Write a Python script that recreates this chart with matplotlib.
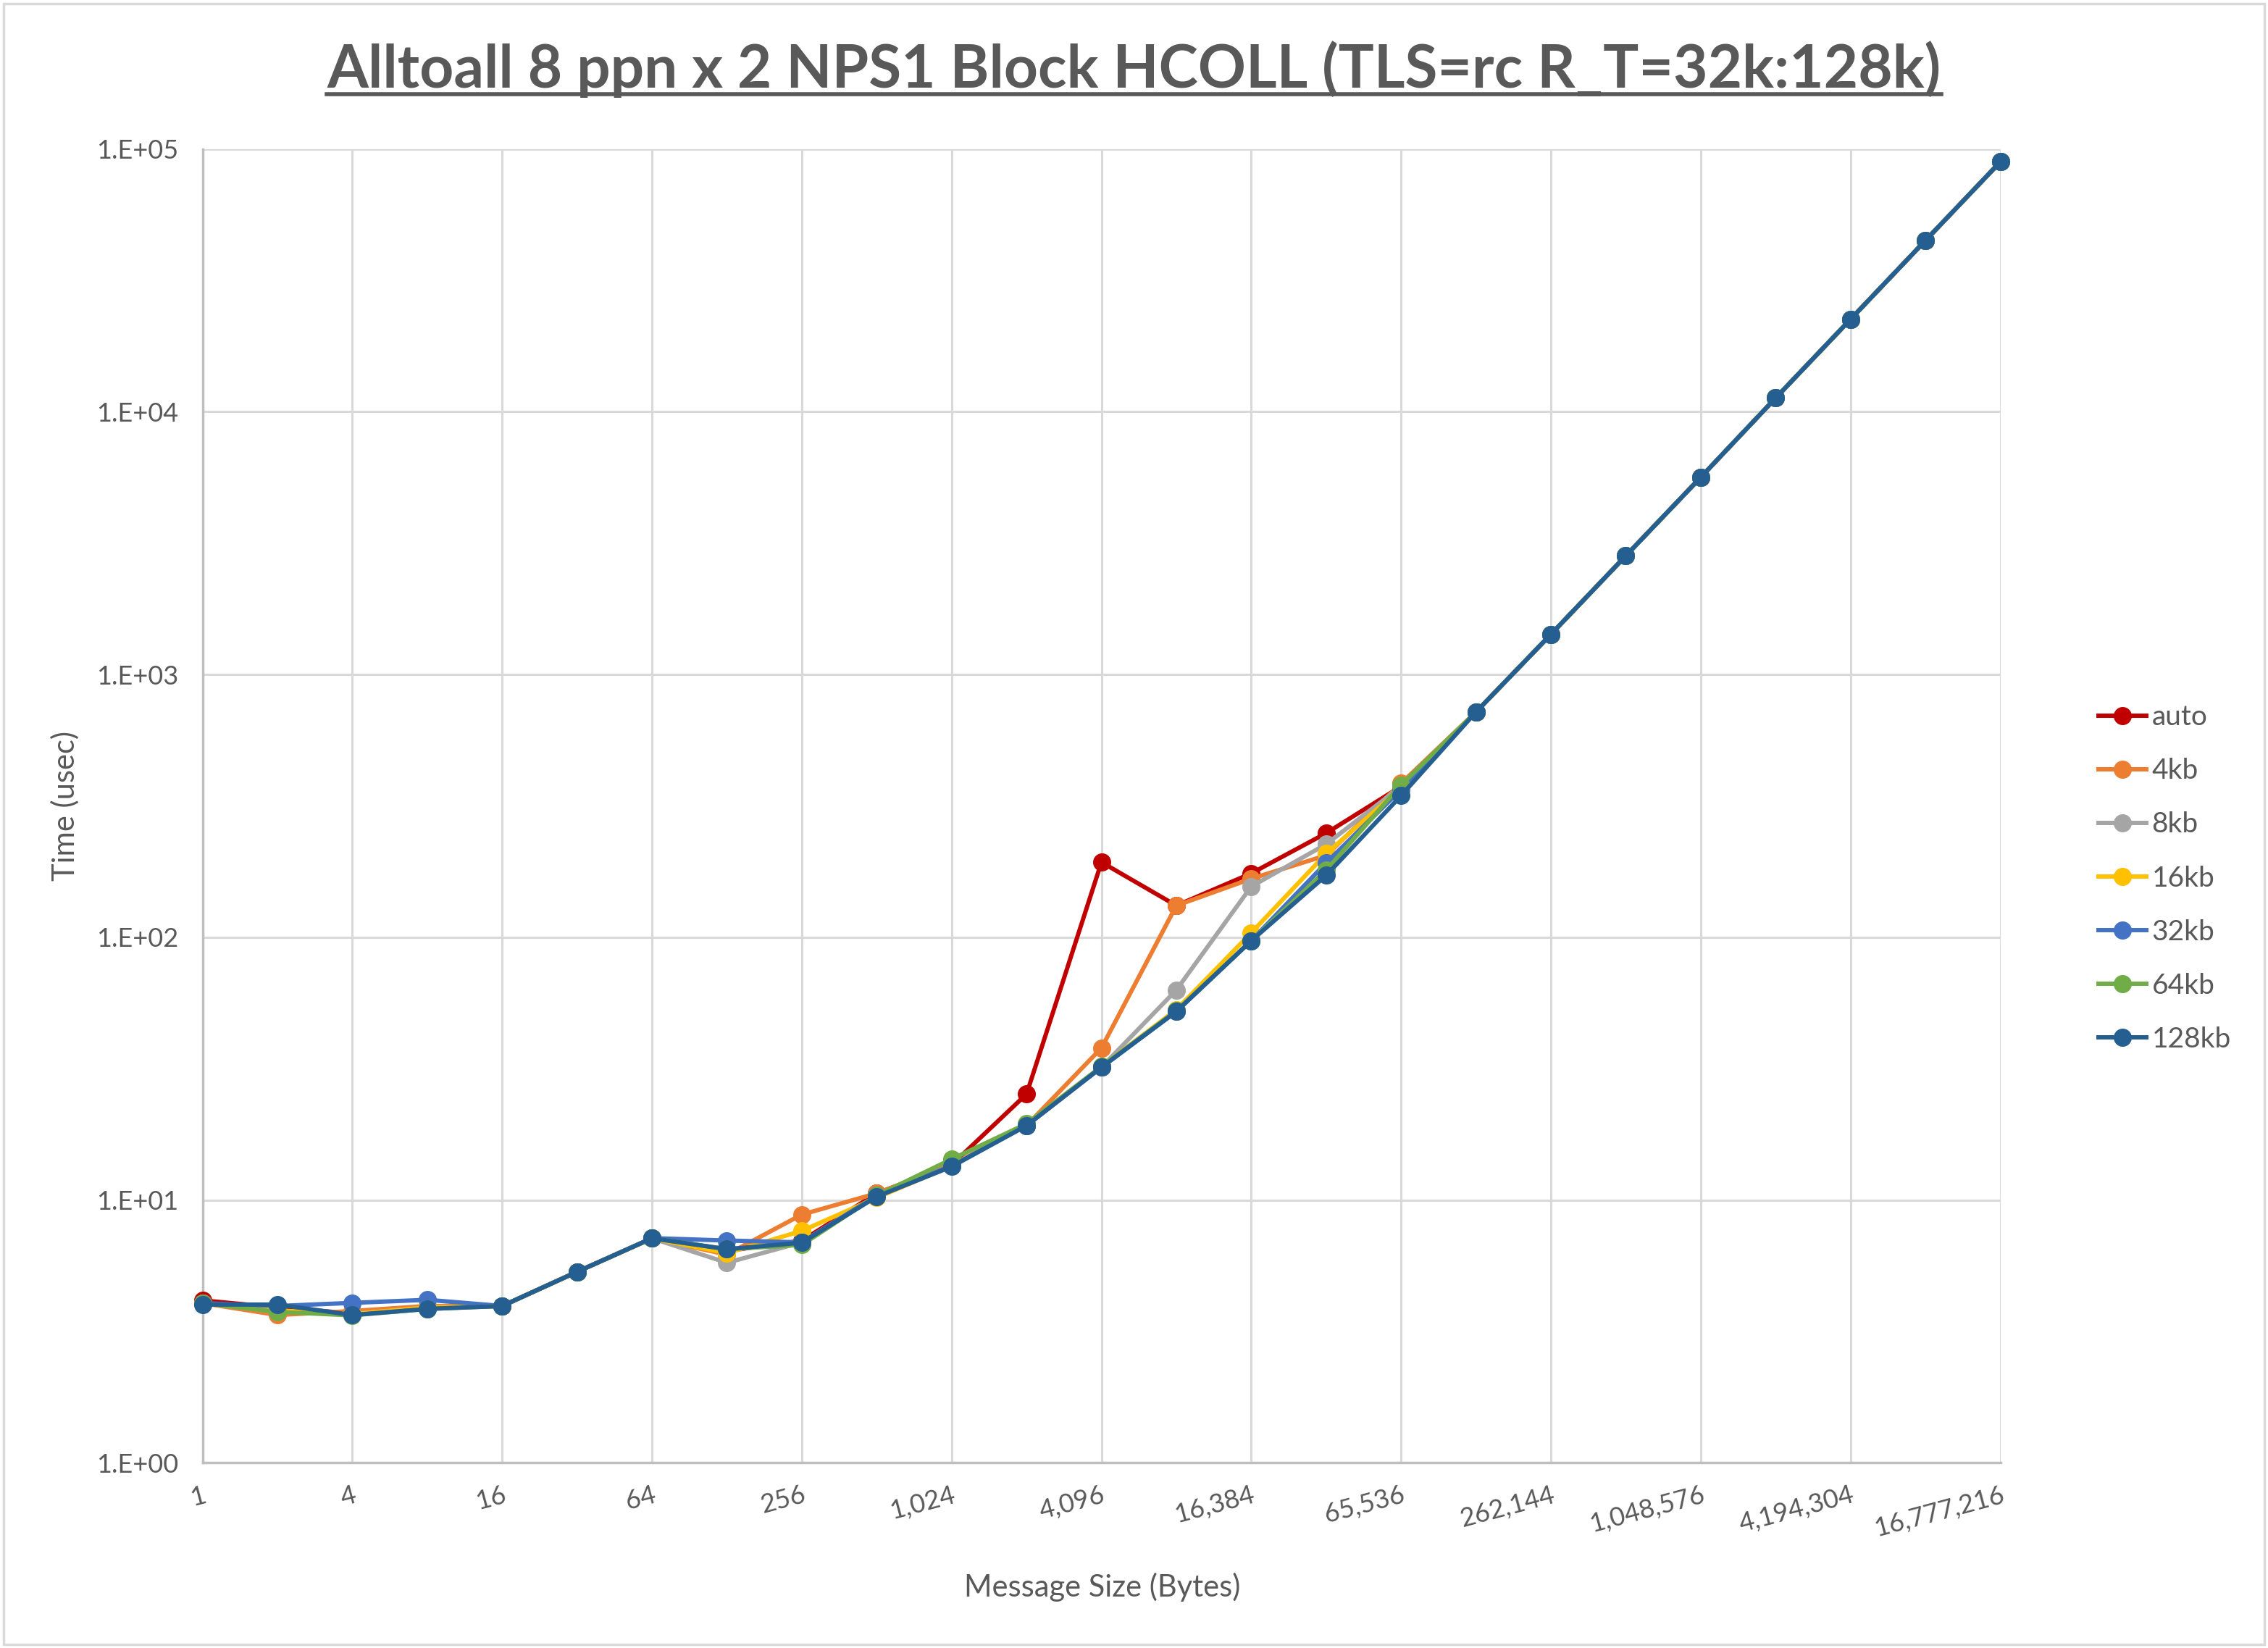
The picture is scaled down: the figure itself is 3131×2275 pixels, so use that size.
import math

import matplotlib
matplotlib.use("Agg")
import matplotlib.pyplot as plt
from matplotlib.lines import Line2D
from matplotlib.patches import Rectangle
from matplotlib.ticker import FixedLocator, FuncFormatter

plt.rcParams["font.family"] = ["Lato", "DejaVu Sans"]

# message sizes in bytes, 2^0 .. 2^24
sizes = [2 ** k for k in range(25)]

# large messages: every setting gives the same time
tail = [720, 1422, 2830, 5630, 11280, 22490, 44860, 89340]

auto = [4.15, 3.9, 3.7, 3.9, 3.95, 5.33, 7.15, 6.4, 7.0, 10.6, 13.6, 25.3,
        193, 132, 175, 249, 375] + tail
kb4 = [4.05, 3.65, 3.78, 3.95, 3.95, 5.33, 7.15, 6.2, 8.8, 10.6, 13.6, 19.2,
       37.9, 132, 167, 205, 385] + tail
kb8 = [4.05, 3.75, 3.68, 3.9, 3.95, 5.33, 7.15, 5.77, 6.9, 10.4, 13.5, 19.2,
       32.0, 63, 156, 226, 375] + tail
kb16 = [4.05, 3.8, 3.68, 3.9, 3.95, 5.33, 7.15, 6.28, 7.63, 10.2, 13.5, 19.3,
        32.2, 53, 104, 208, 370] + tail
kb32 = [4.05, 3.95, 4.06, 4.17, 3.95, 5.33, 7.16, 7.01, 6.9, 10.4, 13.5, 19.2,
        32.0, 52.2, 97, 192, 365] + tail
kb64 = [4.05, 3.75, 3.64, 3.85, 3.95, 5.33, 7.15, 6.5, 6.75, 10.4, 14.3, 19.5,
        32.2, 52.5, 97, 180, 380] + tail
kb128 = [4.0, 4.0, 3.65, 3.85, 3.95, 5.33, 7.15, 6.5, 6.88, 10.3, 13.4, 19.2,
         32.0, 52.2, 97, 172, 346] + tail

series = [
    ("auto", auto, "#C00000"),
    ("4kb", kb4, "#ED7D31"),
    ("8kb", kb8, "#A5A5A5"),
    ("16kb", kb16, "#FFC000"),
    ("32kb", kb32, "#4472C4"),
    ("64kb", kb64, "#70AD47"),
    ("128kb", kb128, "#255E91"),
]

text_col = "#595959"
grid_col = "#D9D9D9"

fig = plt.figure(figsize=(31.31, 22.75), dpi=100)
ax = fig.add_axes([0.0893, 0.1124, 0.882 - 0.0893, 0.9096 - 0.1124])

xs = list(range(len(sizes)))
for name, vals, col in series:
    ax.plot(xs, vals, color=col, lw=4.3, marker="o", ms=17,
            label=name, clip_on=False, zorder=3)

ax.set_yscale("log")
ax.set_ylim(1, 1e5)
ax.set_xlim(0, len(sizes) - 1)

ax.yaxis.set_major_locator(FixedLocator([10 ** e for e in range(6)]))
ax.yaxis.set_minor_locator(FixedLocator([]))
ax.yaxis.set_major_formatter(FuncFormatter(lambda v, p: "1.E+%02d" % round(math.log10(v))))

tick_idx = xs[::2]
ax.set_xticks(tick_idx)
ax.set_xticklabels([f"{sizes[i]:,}" for i in tick_idx], rotation=15,
                   ha="right", va="top", rotation_mode="anchor")

ax.tick_params(axis="both", length=0, labelsize=26, colors=text_col)
ax.tick_params(axis="y", pad=24)
ax.tick_params(axis="x", pad=20)

ax.grid(True, color=grid_col, lw=2.2, zorder=0)
ax.set_axisbelow(True)
for s in ["top", "right"]:
    ax.spines[s].set_visible(False)
for s in ["left", "bottom"]:
    ax.spines[s].set_color("#BFBFBF")
    ax.spines[s].set_linewidth(2.5)

fig.text(0.0287, 0.511, "Time (usec)", rotation=90, ha="center", va="center",
         fontsize=30, color=text_col)
fig.text(0.486, 0.037, "Message Size (Bytes)", ha="center", va="center",
         fontsize=30, color=text_col)

title = fig.text(0.5, 0.958, "Alltoall 8 ppn x 2 NPS1 Block HCOLL (TLS=rc R_T=32k:128k)",
                 ha="center", va="center", fontsize=59, fontweight="bold",
                 color=text_col)

ax.legend(loc="center left", bbox_to_anchor=(0.914, 0.467),
          bbox_transform=fig.transFigure, frameon=False, fontsize=28,
          handlelength=1.7, handletextpad=0.2, labelspacing=0.98,
          labelcolor=text_col)

# underline the title like the original
fig.canvas.draw()
bb = title.get_window_extent().transformed(fig.transFigure.inverted())
fig.add_artist(Line2D([bb.x0, bb.x1], [bb.y0 + 0.002, bb.y0 + 0.002],
                      color=text_col, lw=4, transform=fig.transFigure))

fig.add_artist(Rectangle((0.0015, 0.002), 0.997, 0.996, fill=False,
                         edgecolor=grid_col, lw=2.5, transform=fig.transFigure))

fig.savefig("out.png", dpi=100, facecolor="white")
